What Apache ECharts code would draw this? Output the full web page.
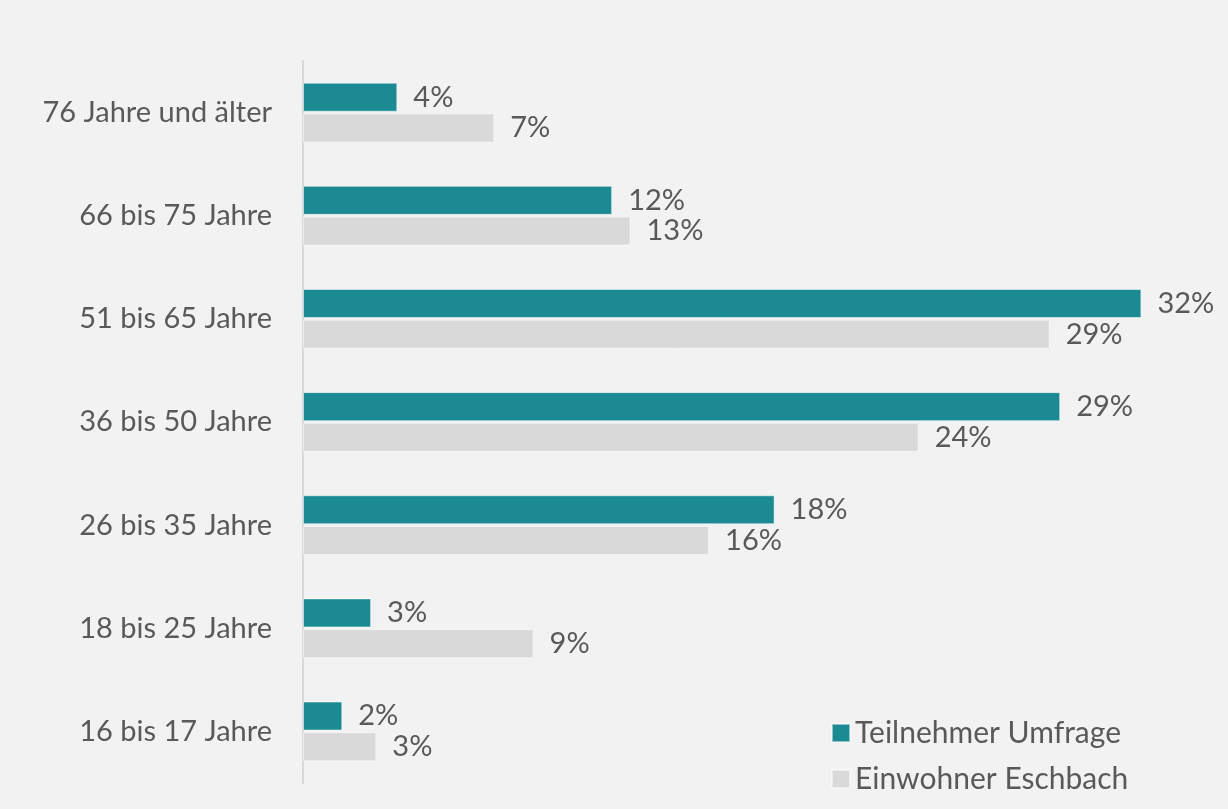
<!DOCTYPE html>
<html><head><meta charset="utf-8">
<script src="https://cdn.jsdelivr.net/npm/echarts@6/dist/echarts.min.js"></script>
<style>html,body{margin:0;padding:0;background:#f2f2f2}#c{width:1228px;height:809px}</style>
</head><body><div id="c"></div>
<script>
const categories = ['76 Jahre und älter','66 bis 75 Jahre','51 bis 65 Jahre','36 bis 50 Jahre','26 bis 35 Jahre','18 bis 25 Jahre','16 bis 17 Jahre'];
const seriesNames = ['Teilnehmer Umfrage','Einwohner Eschbach'];
const teilnehmer = [3.6, 11.8, 32.0, 28.9, 18.0, 2.6, 1.5];
const einwohner = [7.3, 12.5, 28.5, 23.5, 15.5, 8.8, 2.8];
const colors = ['#1b8a93','#d9d9d9'];
const chart = echarts.init(document.getElementById('c'));
const font = 'Lato, "Noto Sans", sans-serif';
const lbl = {show:true, position:'right', distance:16, color:'#595959', fontSize:29, fontFamily:font,
  formatter: p => Math.round(p.value) + '%'};
chart.setOption({
  backgroundColor:'#f2f2f2',
  animation:false,
  grid:{left:303, right:8, top:61, bottom:26, containLabel:false},
  legend:{orient:'vertical', left:826, top:713, itemWidth:18, itemHeight:18, itemGap:16,
    icon:'rect', textStyle:{color:'#595959', fontSize:30, fontFamily:font}, data:seriesNames},
  xAxis:{type:'value', min:0, max:35, show:false},
  yAxis:{type:'category', data:categories, inverse:true,
    axisLine:{show:true, lineStyle:{color:'#d9d9d9', width:2}},
    axisTick:{show:false},
    axisLabel:{color:'#595959', fontSize:29, fontFamily:font, margin:31}},
  series:[
    {name:seriesNames[0], type:'bar', data:teilnehmer, barWidth:29, barGap:'6%', barCategoryGap:'44%',
     itemStyle:{color:colors[0], borderColor:'rgba(255,255,255,0.5)', borderWidth:1}, label:lbl},
    {name:seriesNames[1], type:'bar', data:einwohner, barWidth:29,
     itemStyle:{color:colors[1], borderColor:'rgba(255,255,255,0.5)', borderWidth:1}, label:lbl}
  ]
});
</script></body></html>
